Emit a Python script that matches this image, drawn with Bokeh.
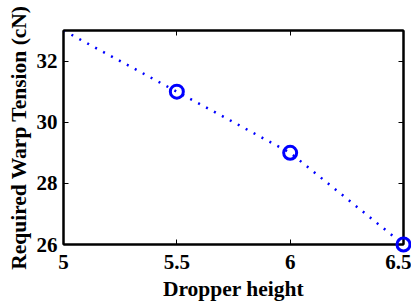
from bokeh.plotting import figure
from bokeh.models import Range1d, FixedTicker, LinearAxis
from bokeh.embed import file_html
from bokeh.resources import INLINE

# Data
line_x = [5.0, 5.5, 6.0, 6.5]
line_y = [33.0, 31.0, 29.0, 26.0]
marker_x = [5.5, 6.0, 6.5]
marker_y = [31.0, 29.0, 26.0]
x_ticks = [5.0, 5.5, 6.0, 6.5]
x_tick_labels = ["5", "5.5", "6", "6.5"]
y_ticks = [26, 28, 30, 32]
y_tick_labels = ["26", "28", "30", "32"]

FONT = "Liberation Serif"
BLUE = "#0000ff"

p = figure(width=411, height=303, output_backend="svg", toolbar_location=None,
           x_range=Range1d(5, 6.5), y_range=Range1d(26, 33),
           min_border_left=63, min_border_right=8, min_border_top=30, min_border_bottom=59)
p.xgrid.visible = False
p.ygrid.visible = False
p.outline_line_color = "black"
p.outline_line_width = 2
p.background_fill_color = "white"
p.border_fill_color = "white"

p.line(line_x, line_y, line_color=BLUE, line_width=2.5, line_dash="2 7")
p.scatter(marker_x, marker_y, marker="circle", size=13, fill_color=None,
          line_color=BLUE, line_width=3, level="overlay")

def style(ax, ticks, labels, show):
    ax.ticker = FixedTicker(ticks=ticks)
    ax.major_label_overrides = {t: l for t, l in zip(ticks, labels)}
    ax.axis_line_color = "black"
    ax.axis_line_width = 2
    ax.major_tick_in = 5
    ax.major_tick_out = 0
    ax.major_tick_line_width = 1
    ax.major_tick_line_color = "black"
    ax.minor_tick_line_color = None
    ax.major_label_text_font = FONT
    ax.major_label_text_font_style = "bold"
    ax.major_label_text_color = "black"
    ax.axis_label_text_font = FONT
    ax.axis_label_text_font_style = "bold"
    ax.axis_label_text_color = "black"
    ax.axis_label_text_font_size = "21px"
    if show:
        ax.major_label_text_font_size = "21px"
    else:
        ax.major_label_text_font_size = "0px"
        ax.major_label_text_color = None
        ax.major_label_standoff = 0

style(p.xaxis[0], x_ticks, x_tick_labels, True)
style(p.yaxis[0], y_ticks, y_tick_labels, True)
p.xaxis[0].axis_label = "Dropper height"
p.yaxis[0].axis_label = "Required Warp Tension (cN)"
p.xaxis[0].axis_label_text_font_size = "21.5px"
p.yaxis[0].axis_label_text_font_size = "21.5px"
p.xaxis[0].major_label_standoff = 10
p.yaxis[0].major_label_standoff = 6
p.xaxis[0].axis_label_standoff = 5
p.yaxis[0].axis_label_standoff = 3

top = LinearAxis()
right = LinearAxis()
style(top, x_ticks, x_tick_labels, False)
style(right, y_ticks, y_tick_labels, False)
p.add_layout(top, "above")
p.add_layout(right, "right")

open("out.html", "w").write(file_html(p, INLINE))
